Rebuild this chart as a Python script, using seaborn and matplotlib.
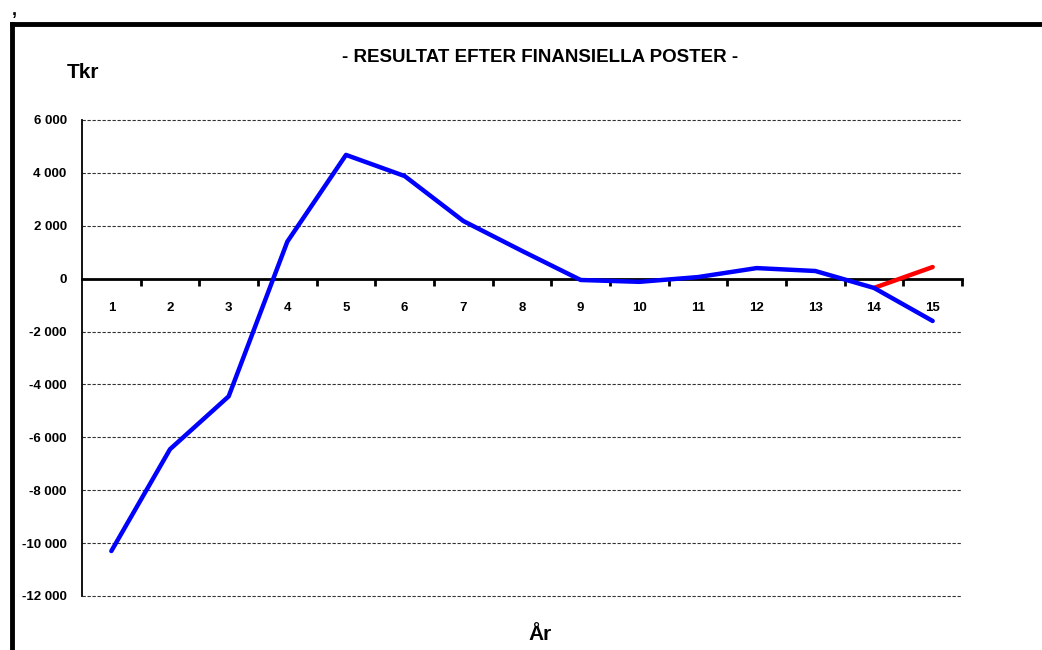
import numpy as np
import pandas as pd
import seaborn as sns
import matplotlib.pyplot as plt
from matplotlib.lines import Line2D

years = list(range(1, 16))
resultat = [-10300, -6450, -4450, 1400, 4680, 3880, 2180, 1050, -50, -120, 60, 400, 290, -350, -1600]
alt_years = [14, 15]
alt_resultat = [-350, 440]
yticks = list(range(-12000, 6001, 2000))

sns.set_theme(style="white")
plt.rcParams['font.family'] = ['Liberation Sans', 'DejaVu Sans']
plt.rcParams['font.weight'] = 'bold'
plt.rcParams['text.color'] = 'black'
plt.rcParams['xtick.color'] = 'black'
plt.rcParams['ytick.color'] = 'black'

fig = plt.figure(figsize=(10.42, 6.5), dpi=100)
ax = fig.add_axes([82/1042, 1 - 596/650, 880/1042, 476/650])

df = pd.DataFrame({'År': years, 'Tkr': resultat})
df2 = pd.DataFrame({'År': alt_years, 'Tkr': alt_resultat})
sns.lineplot(data=df2, x='År', y='Tkr', ax=ax, color='#ff0000', linewidth=3.2, zorder=3)
sns.lineplot(data=df, x='År', y='Tkr', ax=ax, color='#0000ff', linewidth=3.2, zorder=4)

ax.set_xlim(0.5, 15.5)
ax.set_ylim(-12000, 6000)
ax.set_xlabel('')
ax.set_ylabel('')

# grid
for v in yticks:
    ax.axhline(v, color='#333333', linewidth=0.8, linestyle=(0, (3, 1.5)), zorder=1, clip_on=False)

ax.spines['top'].set_visible(False)
ax.spines['right'].set_visible(False)
ax.spines['bottom'].set_position(('data', 0))
ax.spines['bottom'].set_linewidth(2)
ax.spines['bottom'].set_color('black')
ax.spines['bottom'].set_zorder(2)
ax.spines['left'].set_linewidth(1.3)
ax.spines['left'].set_color('black')

ax.set_yticks(yticks)
ax.set_yticklabels([f"{v:,}".replace(',', ' ') for v in yticks], fontsize=9.5, fontweight='bold',
                   color='black')
ax.tick_params(axis='y', length=0, pad=11)

ax.set_xticks(years)
ax.set_xticklabels([str(y) for y in years], fontsize=9.5, fontweight='bold', color='black')
ax.set_xticks(np.arange(1.5, 15.6, 1), minor=True)
ax.tick_params(axis='x', which='major', length=0, pad=17)
ax.tick_params(axis='x', which='minor', length=5, width=2, color='black', direction='out', bottom=True)

fig.text(540/1042, 1 - 57/650, '- RESULTAT EFTER FINANSIELLA POSTER -', ha='center', va='center',
         fontsize=13.5, fontweight='bold', color='black')
fig.text(83/1042, 1 - 73/650, 'Tkr', ha='center', va='center', fontsize=15, fontweight='bold',
         color='black')
fig.text(540/1042, 1 - 634/650, 'År', ha='center', va='center', fontsize=15, fontweight='bold',
         color='black')
fig.text(12/1042, 1 - 10/650, ',', ha='left', va='center', fontsize=13, fontweight='bold',
         color='black')

# outer frame (left and top)
fig.add_artist(Line2D([11.5/1042, 11.5/1042], [0, 1 - 24/650], transform=fig.transFigure,
                      color='black', linewidth=3.5, solid_capstyle='projecting'))
fig.add_artist(Line2D([11.5/1042, 1], [1 - 24/650, 1 - 24/650], transform=fig.transFigure,
                      color='black', linewidth=3.5, solid_capstyle='projecting'))

fig.savefig('out.png', dpi=100)
